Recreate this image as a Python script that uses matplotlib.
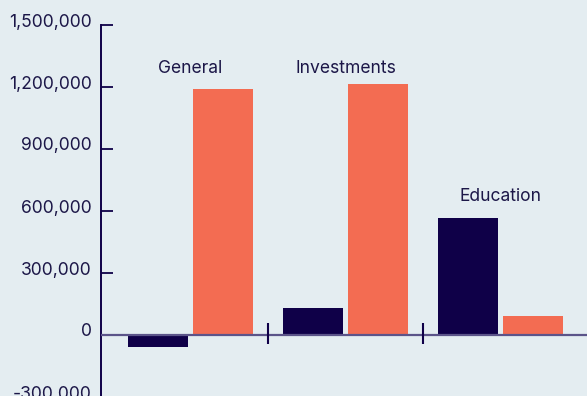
import matplotlib.pyplot as plt
import matplotlib.transforms as mtransforms
import numpy as np

# data
categories = ['General', 'Investments', 'Education']
dark_values = [-58000, 130000, 566000]
coral_values = [1190000, 1215000, 92000]
yticks = [-300000, 0, 300000, 600000, 900000, 1200000, 1500000]
label_y = [1290000, 1290000, 668000]

bg = '#e4edf1'
navy = '#0f0048'
coral = '#f36c52'
text_col = '#1c1748'

plt.rcParams['font.family'] = ['Inter', 'DejaVu Sans']

fig = plt.figure(figsize=(5.87, 3.96), dpi=100, facecolor=bg)
ax = fig.add_axes([101 / 587, -1 / 396, 1 - 101 / 587, 372 / 396])
ax.set_facecolor(bg)

x = np.arange(len(categories))
w = 60 / 155
off = 32.5 / 155
ax.bar(x - off, dark_values, w, color=navy, zorder=2)
ax.bar(x + off, coral_values, w, color=coral, zorder=2)

# zero line and group separators
ax.axhline(0, color='#5b5489', lw=1.6, zorder=3)
ax.vlines(x[:-1] + 0.5, -45000, 58000, color=navy, lw=1.5, zorder=4)

for xi, name, yy in zip(x, categories, label_y):
    ax.text(xi, yy, name, ha='center', va='center', fontsize=12.6, color=text_col)

ax.set_xlim(-0.577, 2.558)
ax.set_ylim(-300000, 1500000)
ax.set_yticks(yticks)
ax.set_yticklabels([f'{v:,}' for v in yticks])
ax.set_xticks([])

for s in ['top', 'right', 'bottom']:
    ax.spines[s].set_visible(False)
ax.spines['left'].set_color(navy)
ax.spines['left'].set_linewidth(1.4)
ax.tick_params(axis='y', direction='in', length=8.6, width=1.3, color=navy,
               labelsize=12.6, labelcolor=text_col, pad=6.5)

# tick labels sit a little above their ticks
shift = mtransforms.ScaledTranslation(0, 5 / 100, fig.dpi_scale_trans)
for lab in ax.get_yticklabels():
    lab.set_transform(lab.get_transform() + shift)

plt.savefig('out.png', dpi=100, facecolor=bg)
